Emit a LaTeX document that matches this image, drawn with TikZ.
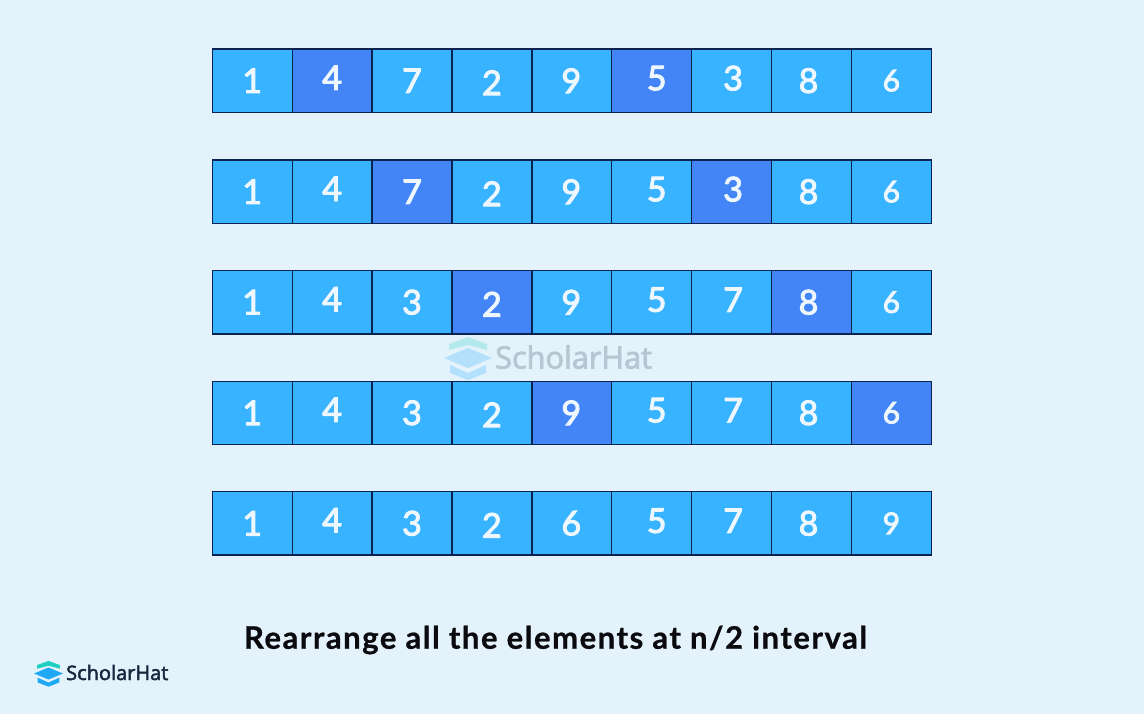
\documentclass[tikz,border=0pt]{standalone}
\usepackage{fontspec}
\setmainfont{Lato}
\newfontfamily\digitfont[FakeBold=3]{Lato}
\newfontfamily\markfont[FakeBold=2.4]{Open Sans}
\newfontfamily\titlefont[LetterSpace=5,FakeBold=0.8]{Lato Bold}
\usetikzlibrary{positioning}
\definecolor{PageBg}{HTML}{E4F2FC}
\definecolor{CellBlue}{HTML}{38B3FF}
\definecolor{PickBlue}{HTML}{4385F6}
\definecolor{CellLine}{HTML}{0B2350}
\definecolor{DigitInk}{HTML}{EEF7FE}
\definecolor{TitleInk}{HTML}{0B0B0F}
\definecolor{LogoTeal}{HTML}{1FCFC1}
\definecolor{LogoSky}{HTML}{1FA9F5}
\definecolor{LogoInk}{HTML}{16283F}
\newcommand{\hatlogo}[3]{%
  \fill[#1] (0,-21) -- (19,-14) -- (19,-8) -- (0,-13) -- (-19,-8) -- (-19,-14) -- cycle;
  \fill[#2] (0,-10) -- (24,0) -- (0,10) -- (-24,0) -- cycle;
  \fill[#3] (-18,7) -- (0,15) -- (18,7) -- (18,15) -- (0,22) -- (-18,15) -- cycle;
}

\begin{document}
\begin{tikzpicture}[
    x=1pt, y=-1pt,
    cell/.style={
      draw=CellLine,
      line width=1.3pt,
      minimum width=79.9pt,
      minimum height=63.3pt,
      inner sep=0pt,
    },
    digit/.style={
      font=\digitfont\fontsize{34}{36}\selectfont,
      text=DigitInk,
      inner sep=0pt,
    },
    caption/.style={
      font=\titlefont\fontsize{31}{32}\selectfont,
      text=TitleInk,
      inner sep=0pt,
    },
  ]
    \useasboundingbox (0,0) rectangle (1144,714);
    \fill[PageBg] (0,0) rectangle (1144,714);

    % ---- rows of cells ----
    \foreach \r/\rowy/\pa/\pb/\vals in {
      1/80.7/2/6/{1,4,7,2,9,5,3,8,6},
      2/191.7/3/7/{1,4,7,2,9,5,3,8,6},
      3/302.2/4/8/{1,4,3,2,9,5,7,8,6},
      4/412.8/5/9/{1,4,3,2,9,5,7,8,6},
      5/523.3/0/0/{1,4,3,2,6,5,7,8,9}} {
      \foreach \dx/\dy [count=\i] in {0/0, 0/-3, 0/0, 0/2, -0.5/0, 5/-2.5, 1.5/-2.5, -3/0, 0/0} {
        \pgfmathtruncatemacro\num{{\vals}[\i-1]}
        \def\ink{CellBlue}
        \ifnum\i=\pa \def\ink{PickBlue}\fi
        \ifnum\i=\pb \def\ink{PickBlue}\fi
        \def\numscale{1}
        \ifnum\i=9 \def\numscale{0.88}\fi
        \node[cell, fill=\ink] (c\r-\i) at ({172.3+79.9*\i},\rowy) {};
        \node[digit, scale=\numscale, xshift=\dx pt, yshift=-\dy pt]
          (d\r-\i) at (c\r-\i) {\num};
      }
    }

    % ---- watermark ----
    \begin{scope}[shift={(468,358)}]
      \hatlogo{LogoTeal!25!PageBg}{LogoSky!25!PageBg}{LogoSky!25!PageBg}
    \end{scope}
    \node[font=\markfont\fontsize{30.7}{32}\selectfont, text=LogoInk!22!PageBg,
      inner sep=0pt, anchor=west] (mark) at (495,357) {ScholarHat};

    % ---- caption and logo ----
    \node[caption] (title) at (555.5,640) {Rearrange all the elements at n/2 interval};
    \begin{scope}[shift={(48.5,673.5)}, scale=0.6]
      \hatlogo{LogoTeal}{LogoSky}{LogoSky}
    \end{scope}
    \node[font=\markfont\fontsize{20}{22}\selectfont, text=LogoInk,
      inner sep=0pt, anchor=west] (brand) at (66,672.5) {ScholarHat};
  \end{tikzpicture}
\end{document}
